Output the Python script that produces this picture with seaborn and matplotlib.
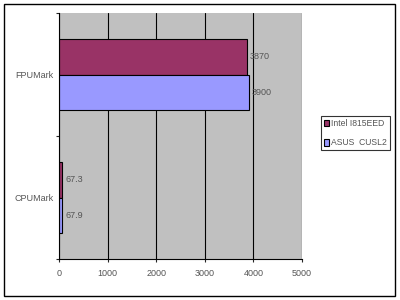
import matplotlib
matplotlib.use("Agg")
import matplotlib.pyplot as plt
import seaborn as sns
import pandas as pd
from matplotlib.patches import Rectangle

categories = ["FPUMark", "CPUMark"]
series_names = ["Intel I815EED", "ASUS  CUSL2"]
intel_values = [3870, 67.3]
asus_values = [3900, 67.9]
value_labels_intel = ["3870", "67.3"]
value_labels_asus = ["3900", "67.9"]
x_ticks = [0, 1000, 2000, 3000, 4000, 5000]

rows = []
for c, v in zip(categories, intel_values):
    rows.append({"cat": c, "series": series_names[0], "val": v})
for c, v in zip(categories, asus_values):
    rows.append({"cat": c, "series": series_names[1], "val": v})
df = pd.DataFrame(rows)

sns.set_style("white")
plt.rcParams['font.family'] = ['Liberation Sans', 'DejaVu Sans']

fig = plt.figure(figsize=(4, 3), dpi=100)
W, H = 400, 300
ax = fig.add_axes([59 / W, 1 - 259 / H, (302 - 59) / W, (259 - 13) / H])

palette = {series_names[0]: "#993366", series_names[1]: "#9999FF"}
sns.barplot(data=df, y="cat", x="val", hue="series", order=categories,
            hue_order=series_names, palette=palette, orient="h", width=0.57,
            edgecolor="#000000", linewidth=0.8, saturation=1, ax=ax, legend=True, zorder=3)

txt = "#555555"
fs = 6.5
ax.set_facecolor("#C0C0C0")
ax.set_xlim(0, 5000)
ax.set_ylim(1.5, -0.5)
ax.set_xticks(x_ticks)
ax.set_xticklabels([str(t) for t in x_ticks], fontsize=fs, color=txt)
ax.set_yticks([0, 1])
ax.set_yticklabels(categories, fontsize=fs, color=txt)
ax.tick_params(axis="y", length=0, pad=4)
ax.tick_params(axis="x", length=2.5, width=0.8, direction="out", pad=5, bottom=True)
ax.set_yticks([-0.5, 0.5, 1.5], minor=True)
ax.tick_params(axis="y", which="minor", length=2.5, width=0.8, direction="out", left=True)
ax.set_xlabel("")
ax.set_ylabel("")
ax.grid(axis="x", color="black", linewidth=0.8, zorder=1)
ax.set_axisbelow(True)
for s in ["top", "right"]:
    ax.spines[s].set_visible(False)
for s in ["left", "bottom"]:
    ax.spines[s].set_color("black")
    ax.spines[s].set_linewidth(0.8)
    ax.spines[s].set_zorder(5)

for cont, labs in zip(ax.containers, [value_labels_intel, value_labels_asus]):
    ax.bar_label(cont, labels=labs, padding=2, fontsize=fs, color=txt)

handles, labels = ax.get_legend_handles_labels()
ax.legend_.remove()
leg = fig.legend(handles, labels, loc="upper left", bbox_to_anchor=(321 / W, 1 - 116 / H),
                 fontsize=6.2, frameon=True, fancybox=False, edgecolor="black",
                 handlelength=0.6, handleheight=0.8, handletextpad=0.25,
                 labelspacing=1.2, borderpad=0.35, borderaxespad=0, labelcolor=txt)
leg.get_frame().set_linewidth(0.8)

fig.patches.append(Rectangle((4 / W, 4 / H), (395 - 4) / W, (296 - 4) / H,
                             transform=fig.transFigure, fill=False,
                             edgecolor="black", linewidth=1))

fig.savefig("out.png", dpi=100)
